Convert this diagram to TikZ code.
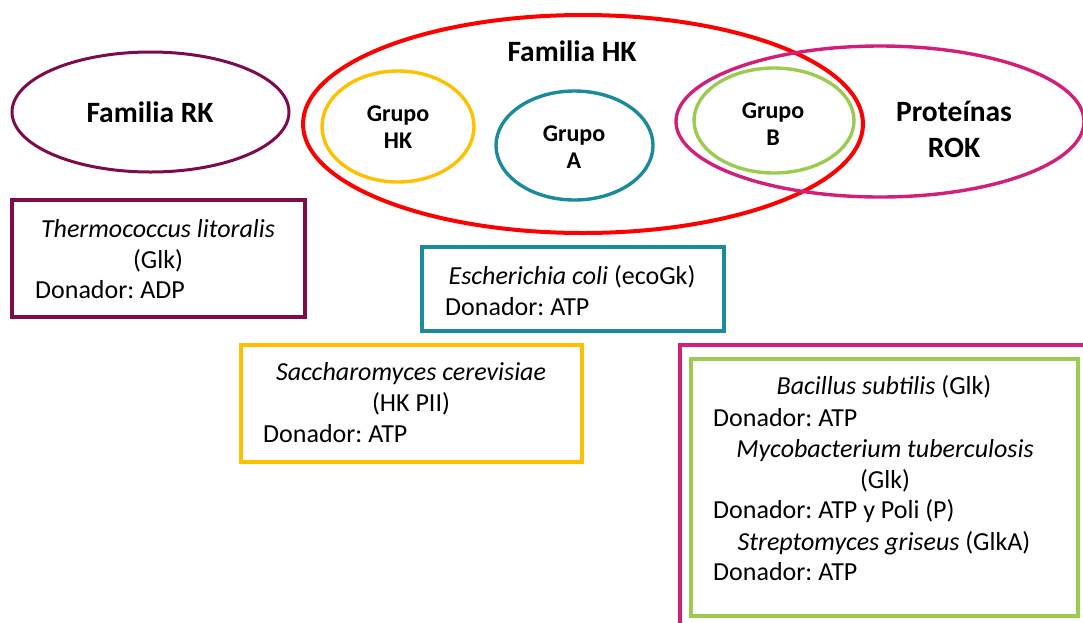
\documentclass[tikz,border=0pt]{standalone}
\usepackage{fontspec}
\setmainfont{Carlito}
\frenchspacing
\usetikzlibrary{shapes.geometric}
\definecolor{cmaroon}{HTML}{7E0C4A}
\definecolor{cred}{HTML}{FF0000}
\definecolor{cyellow}{HTML}{FFC000}
\definecolor{cteal}{HTML}{1A8A9C}
\definecolor{cmagenta}{HTML}{D21F7A}
\definecolor{cgreen}{HTML}{9CCB52}
\tikzset{
  ell/.style={draw=#1, ellipse, line width=3.4pt, inner sep=0pt},
  boxx/.style={draw=#1, rectangle, line width=3.2pt, inner sep=0pt},
  ttl/.style={font=\fontsize{29.5}{34}\selectfont\bfseries, anchor=base, inner sep=0pt},
  grp/.style={font=\fontsize{24}{28}\selectfont\bfseries, anchor=base, inner sep=0pt},
  txc/.style={font=\fontsize{26}{31}\selectfont\frenchspacing, anchor=base, inner sep=0pt},
  txl/.style={font=\fontsize{26}{31}\selectfont\frenchspacing, anchor=base west, inner sep=0pt},
}
\begin{document}
\begin{tikzpicture}[x=1pt,y=-1pt]
\useasboundingbox (0,0) rectangle (1083,622);
\clip (0,0) rectangle (1083,622);
% ellipses
\node[ell=cmaroon, line width=3pt, minimum width=277pt, minimum height=120pt] (rk) at (150.5,112) {};
\node[ell=cred, line width=4pt, minimum width=560pt, minimum height=218pt] (hk) at (583,124) {};
\node[ell=cyellow, minimum width=152pt, minimum height=111pt] (ghk) at (398,126.5) {};
\node[ell=cteal, minimum width=157pt, minimum height=109pt] (ga) at (574.5,145.5) {};
\node[ell=cmagenta, minimum width=408pt, minimum height=151pt] (rok) at (880,121.5) {};
\node[ell=cgreen, minimum width=160pt, minimum height=105pt] (gb) at (774,120.5) {};
% titles
\node[ttl] (trk) at (150,122) {Familia RK};
\node[ttl] (thk) at (572,61) {Familia HK};
\node[grp] (tghk1) at (398,121) {Grupo};
\node[grp] (tghk2) at (398,148) {HK};
\node[grp] (tga1) at (574,141) {Grupo};
\node[grp] (tga2) at (574,168) {A};
\node[grp] (tgb1) at (773,118) {Grupo};
\node[grp] (tgb2) at (773,145) {B};
\node[ttl] (trok1) at (954,121) {Proteínas};
\node[ttl] (trok2) at (954,157) {ROK};
% boxes
\node[boxx=cmaroon, minimum width=293pt, minimum height=117pt] (bt) at (158.5,258.5) {};
\node[boxx=cteal, minimum width=302pt, minimum height=84pt] (be) at (573,289) {};
\node[boxx=cyellow, minimum width=341pt, minimum height=117pt] (bs) at (411.5,403.5) {};
\node[boxx=cmagenta, minimum width=420pt, minimum height=300pt] (bm) at (890,495) {};
\node[boxx=cgreen, minimum width=387pt, minimum height=257pt] (bg) at (884.5,487.5) {};
% box texts
\node[txc] (t1a) at (158,237) {\itshape Thermococcus litoralis};
\node[txc] (t1b) at (158,268) {(Glk)};
\node[txl] (t1c) at (35,298) {Donador: ADP};
\node[txc] (t2a) at (572,284) {\textit{Escherichia coli} (ecoGk)};
\node[txl] (t2b) at (445,315) {Donador: ATP};
\node[txc] (t3a) at (411,380) {\itshape Saccharomyces cerevisiae};
\node[txc] (t3b) at (411,411) {(HK PII)};
\node[txl] (t3c) at (263,442) {Donador: ATP};
\node[txc] (t4a) at (884,394) {\textit{Bacillus subtilis} (Glk)};
\node[txl] (t4b) at (713,426) {Donador: ATP};
\node[txc] (t4c) at (885,457) {\itshape Mycobacterium tuberculosis};
\node[txc] (t4d) at (885,488) {(Glk)};
\node[txl] (t4e) at (713,518) {Donador: ATP y Poli (P)};
\node[txc] (t4f) at (884,550) {\textit{Streptomyces griseus} (GlkA)};
\node[txl] (t4g) at (713,580) {Donador: ATP};
\end{tikzpicture}
\end{document}
